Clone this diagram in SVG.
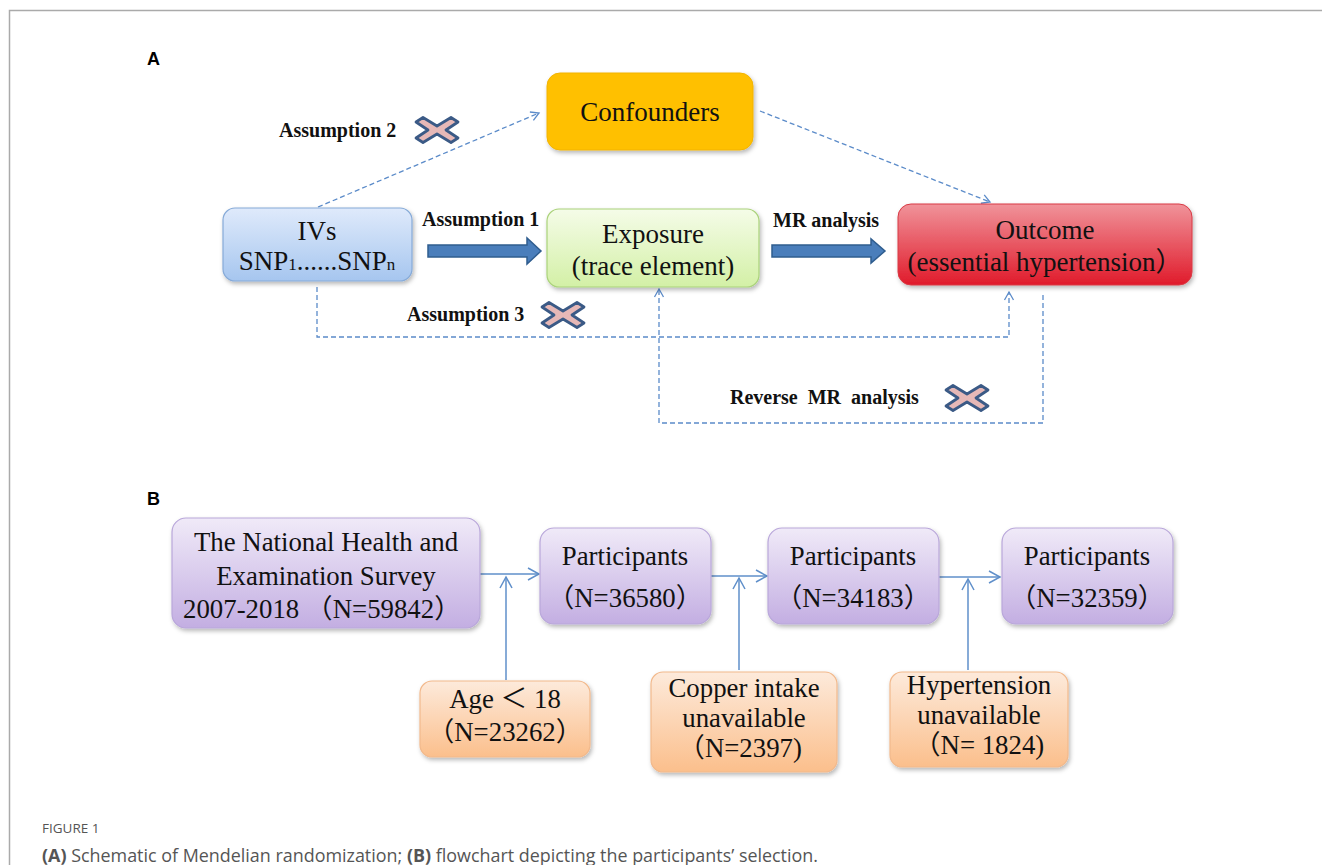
<svg xmlns="http://www.w3.org/2000/svg" xmlns:xlink="http://www.w3.org/1999/xlink" width="1322" height="865" viewBox="0 0 1322 865">
<defs>
<style>
.node{font-family:"Liberation Serif","Noto Sans CJK SC",serif;font-size:27px;fill:#111;text-anchor:middle}
.nodeB{font-family:"Liberation Serif","Noto Sans CJK SC",serif;font-size:26.8px;fill:#111;text-anchor:middle}
.lbl{font-family:"Liberation Serif",serif;font-size:20px;font-weight:bold;fill:#111;white-space:pre}
.panel{font-family:"Liberation Sans",Arial,sans-serif;font-size:18px;font-weight:bold;fill:#000}
.dash{fill:none;stroke:#5b8bc9;stroke-width:1.3;stroke-dasharray:5 3}
.flow{fill:none;stroke:#5f8fca;stroke-width:1.5}
.block{fill:#4a7ebb;stroke:#2f5d8f;stroke-width:1.5}
.xm{fill:#e6b8b7;stroke:#3b5a86;stroke-width:2.8;stroke-linejoin:round}
.cap{font-family:"Open Sans","Liberation Sans",sans-serif;fill:#555}
</style>
<linearGradient id="gBlue" x1="0" y1="0" x2="0" y2="1"><stop offset="0" stop-color="#dfeafb"/><stop offset="1" stop-color="#a6c6ef"/></linearGradient>
<linearGradient id="gGreen" x1="0" y1="0" x2="0" y2="1"><stop offset="0" stop-color="#f5fce8"/><stop offset="1" stop-color="#d3f0a6"/></linearGradient>
<linearGradient id="gRed" x1="0" y1="0" x2="0" y2="1"><stop offset="0" stop-color="#f0939a"/><stop offset="1" stop-color="#e01b2b"/></linearGradient>
<linearGradient id="gPurple" x1="0" y1="0" x2="0" y2="1"><stop offset="0" stop-color="#f0eaf8"/><stop offset="1" stop-color="#c3aee2"/></linearGradient>
<linearGradient id="gPeach" x1="0" y1="0" x2="0" y2="1"><stop offset="0" stop-color="#fdeadb"/><stop offset="1" stop-color="#fbbf8c"/></linearGradient>
<filter id="sh" x="-10%" y="-10%" width="125%" height="135%"><feDropShadow dx="1.5" dy="2.5" stdDeviation="2" flood-color="#000" flood-opacity="0.28"/></filter>
<marker id="open" markerUnits="userSpaceOnUse" markerWidth="12" markerHeight="12" refX="10" refY="6" orient="auto" viewBox="0 0 12 12"><path d="M2,1.5 L10,6 L2,10.5" fill="none" stroke="#5b8bc9" stroke-width="1.3"/></marker>
<marker id="openB" markerUnits="userSpaceOnUse" markerWidth="16" markerHeight="16" refX="13" refY="8" orient="auto" viewBox="0 0 16 16"><path d="M2,2 L13,8 L2,14" fill="none" stroke="#5f8fca" stroke-width="1.5"/></marker>
<polygon id="xmark" class="xm" points="-21,-8 -14,-12.5 0,-4 14,-12.5 21,-8 9,0 21,8 14,12.5 0,4 -14,12.5 -21,8 -9,0"/>
</defs>
<rect width="1322" height="865" fill="#fff"/>
<path d="M9.5,865 V10.5 H1322" fill="none" stroke="#aaa" stroke-width="1.5"/>

<text class="panel" x="147" y="65">A</text>
<text class="panel" x="147" y="505">B</text>

<g id="connectors">
<path class="dash" d="M318,207 L539,113" marker-end="url(#open)"/>
<path class="dash" d="M760,111 L990,202" marker-end="url(#open)"/>
<path class="dash" d="M317,287 V337 H1009 V292" marker-end="url(#open)"/>
<path class="dash" d="M1043,295 V423 H659 V289" marker-end="url(#open)"/>
<polygon class="block" points="428,245 527,245 527,238 541,251 527,264 527,257 428,257"/>
<polygon class="block" points="772,245 871,245 871,239 885,251 871,263 871,257 772,257"/>
<path class="flow" d="M480,574 H539" marker-end="url(#openB)"/>
<path class="flow" d="M711,576 H767" marker-end="url(#openB)"/>
<path class="flow" d="M939,577 H1000" marker-end="url(#openB)"/>
<path class="flow" d="M506,680 V577" marker-end="url(#openB)"/>
<path class="flow" d="M739,670 V578" marker-end="url(#openB)"/>
<path class="flow" d="M968,670 V579" marker-end="url(#openB)"/>
</g>

<g id="labels">
<text class="lbl" x="279" y="137">Assumption 2</text>
<use xlink:href="#xmark" x="437" y="130"/>
<text class="lbl" x="422" y="226">Assumption 1</text>
<text class="lbl" x="773" y="227">MR analysis</text>
<text class="lbl" x="407" y="321">Assumption 3</text>
<use xlink:href="#xmark" x="563" y="315"/>
<text class="lbl" x="730" y="404">Reverse  MR  analysis</text>
<use xlink:href="#xmark" x="967" y="398"/>
</g>

<g id="confounders">
<rect x="547" y="73" width="206" height="77" rx="13" fill="#ffc000" stroke="#f2b300" stroke-width="1" filter="url(#sh)"/>
<text class="node" x="650" y="121">Confounders</text>
</g>
<g id="ivs">
<rect x="223" y="208" width="189" height="73" rx="12" fill="url(#gBlue)" stroke="#86aad8" stroke-width="1.2" filter="url(#sh)"/>
<text class="node" x="317" y="240">IVs</text>
<text class="node" x="317" y="270">SNP<tspan font-size="17">1</tspan>......SNP<tspan font-size="17">n</tspan></text>
</g>
<g id="exposure">
<rect x="547" y="209" width="212" height="78" rx="12" fill="url(#gGreen)" stroke="#aad27a" stroke-width="1.2" filter="url(#sh)"/>
<text class="node" x="653" y="243">Exposure</text>
<text class="node" x="653" y="275">(trace element)</text>
</g>
<g id="outcome">
<rect x="898" y="204" width="294" height="81" rx="13" fill="url(#gRed)" stroke="#d83a44" stroke-width="1" filter="url(#sh)"/>
<text class="node" x="1045" y="239">Outcome</text>
<text class="node" x="1045" y="271">(essential hypertension）</text>
</g>

<g id="nhanes">
<rect x="172" y="518" width="308" height="110" rx="14" fill="url(#gPurple)" stroke="#b9a7da" stroke-width="1.2" filter="url(#sh)"/>
<text class="nodeB" x="326" y="551">The National Health and</text>
<text class="nodeB" x="326" y="585">Examination Survey</text>
<text class="nodeB" x="322" y="618">2007-2018 （N=59842）</text>
</g>
<g id="p1">
<rect x="540" y="528" width="171" height="96" rx="14" fill="url(#gPurple)" stroke="#b9a7da" stroke-width="1.2" filter="url(#sh)"/>
<text class="nodeB" x="625" y="565">Participants</text>
<text class="nodeB" x="625" y="607">（N=36580）</text>
</g>
<g id="p2">
<rect x="768" y="528" width="171" height="96" rx="14" fill="url(#gPurple)" stroke="#b9a7da" stroke-width="1.2" filter="url(#sh)"/>
<text class="nodeB" x="853" y="565">Participants</text>
<text class="nodeB" x="853" y="607">（N=34183）</text>
</g>
<g id="p3">
<rect x="1002" y="528" width="171" height="96" rx="14" fill="url(#gPurple)" stroke="#b9a7da" stroke-width="1.2" filter="url(#sh)"/>
<text class="nodeB" x="1087" y="565">Participants</text>
<text class="nodeB" x="1087" y="607">（N=32359）</text>
</g>
<g id="age">
<rect x="420" y="681" width="170" height="76" rx="12" fill="url(#gPeach)" stroke="#f2b98c" stroke-width="1.2" filter="url(#sh)"/>
<text class="nodeB" x="505" y="708">Age ＜ 18</text>
<text class="nodeB" x="505" y="741">（N=23262）</text>
</g>
<g id="copper">
<rect x="651" y="672" width="186" height="100" rx="12" fill="url(#gPeach)" stroke="#f2b98c" stroke-width="1.2" filter="url(#sh)"/>
<text class="nodeB" x="744" y="697">Copper intake</text>
<text class="nodeB" x="744" y="727">unavailable</text>
<text class="nodeB" x="740" y="757">（N=2397)</text>
</g>
<g id="hyper">
<rect x="890" y="672" width="178" height="95" rx="12" fill="url(#gPeach)" stroke="#f2b98c" stroke-width="1.2" filter="url(#sh)"/>
<text class="nodeB" x="979" y="694">Hypertension</text>
<text class="nodeB" x="979" y="724">unavailable</text>
<text class="nodeB" x="979" y="754">（N= 1824)</text>
</g>

<text class="cap" x="42" y="833" font-size="13.5" fill="#666">FIGURE 1</text>
<text class="cap" x="42" y="862" font-size="17.5" textLength="776" lengthAdjust="spacingAndGlyphs"><tspan font-weight="bold">(A)</tspan> Schematic of Mendelian randomization; <tspan font-weight="bold">(B)</tspan> flowchart depicting the participants’ selection.</text>
</svg>
